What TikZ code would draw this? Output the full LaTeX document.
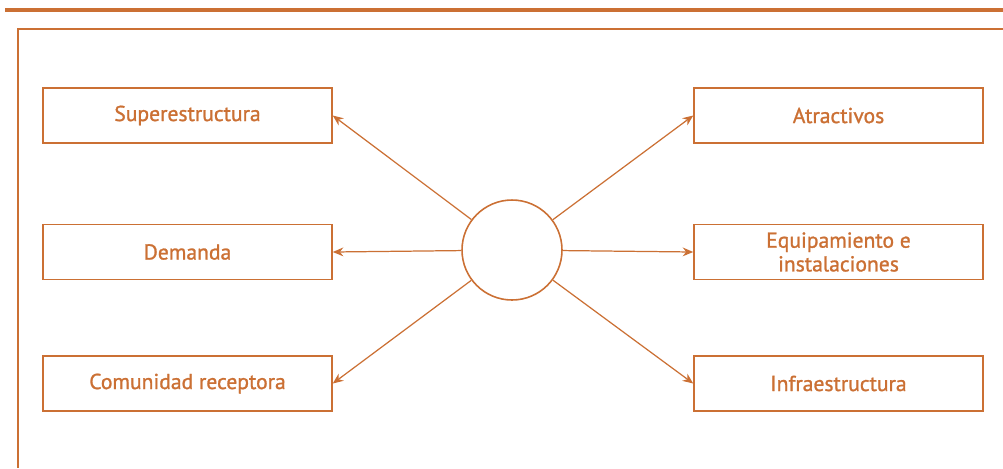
\documentclass[tikz,border=0pt]{standalone}
\usepackage{fontspec}
\setmainfont{PT Sans}
\newfontfamily\etiqueta[FakeBold=1.2]{PT Sans}
\usepackage{tikz}
\usetikzlibrary{arrows.meta,positioning}
\definecolor{ocre}{RGB}{203,112,52}
\tikzset{
    caja/.style={draw=ocre,line width=0.9pt,minimum width=5.78cm,minimum height=1.1cm,inner sep=0pt},
    nucleo/.style={circle,draw=ocre,line width=0.9pt,minimum size=2cm,inner sep=0pt},
    flecha/.style={draw=ocre,line width=0.7pt,-{Stealth[length=6pt,width=5pt]}},
    marco/.style={draw=ocre,line width=1.2pt},
    every node/.style={font=\etiqueta\fontsize{12.3}{13.5}\selectfont,text=ocre}
}

\begin{document}
\begin{tikzpicture}[x=0.02cm,y=-0.02cm]
  \useasboundingbox (0,0) rectangle (1003,468);

  % marco
  \draw[marco,line width=1.8pt] (5,10) -- (1003,10);
  \draw[marco] (1003,29) -- (18,29) -- (18,468);

  % centro
  \node[nucleo] (c) at (512,250) {};

  % cajas izquierda
  \node[caja] (sup) at (187.5,115.5) {Superestructura};
  \node[caja] (dem) at (187.5,252)   {Demanda};
  \node[caja] (com) at (187.5,383.5) {Comunidad receptora};

  % cajas derecha
  \node[caja] (atr) at (838.5,115.5) {Atractivos};
  \node[caja,align=center] (equ) at (838.5,252) {Equipamiento e\\instalaciones};
  \node[caja] (inf) at (838.5,383.5) {Infraestructura};

  % flechas
  \foreach \B in {sup,dem,com}{
    \draw[flecha] (c) -- (\B.east);
  }
  \foreach \B in {atr,equ,inf}{
    \draw[flecha] (c) -- (\B.west);
  }
\end{tikzpicture}
\end{document}
